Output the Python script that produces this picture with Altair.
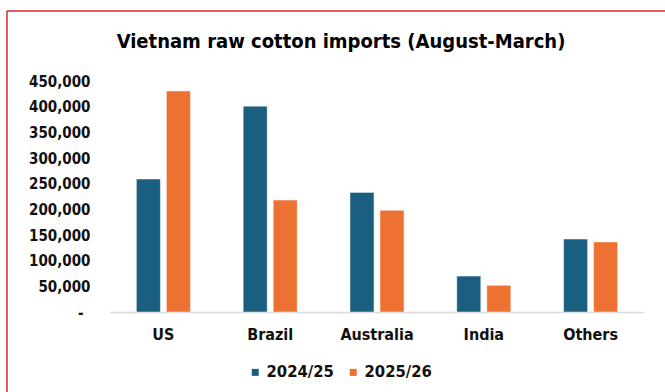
import altair as alt
import pandas as pd

countries = ["US", "Brazil", "Australia", "India", "Others"]
seasons = ["2024/25", "2025/26"]
imports_2024_25 = [259000, 401000, 233000, 70000, 142000]
imports_2025_26 = [430500, 218000, 198000, 52000, 136400]
y_ticks = [0, 50000, 100000, 150000, 200000, 250000, 300000, 350000, 400000, 450000]

rows = []
for c, a, b in zip(countries, imports_2024_25, imports_2025_26):
    rows.append({"country": c, "season": seasons[0], "value": a})
    rows.append({"country": c, "season": seasons[1], "value": b})
df = pd.DataFrame(rows)

FONT = "DejaVu Sans Condensed"

bars = alt.Chart(df).mark_bar(stroke="#ffffff", strokeOpacity=0.45, strokeWidth=1).encode(
    x=alt.X("country:N", sort=countries, title=None,
            scale=alt.Scale(paddingInner=0.494, paddingOuter=0.247),
            axis=alt.Axis(labelAngle=0, ticks=False, tickSize=0, labelPadding=14,
                          labelFont=FONT, labelFontSize=16, labelFontWeight="bold",
                          labelColor="#111111",
                          domainColor="#d9d9d9", domainWidth=1.5, grid=False)),
    xOffset=alt.XOffset("season:N", sort=seasons,
                        scale=alt.Scale(paddingInner=0.2, paddingOuter=0)),
    y=alt.Y("value:Q", title=None,
            scale=alt.Scale(domain=[0, 450000], nice=False),
            axis=alt.Axis(values=y_ticks, domain=False, ticks=False, tickSize=0, grid=False,
                          labelPadding={"condition": {"test": "datum.value == 0", "value": 27},
                                        "value": 20},
                          labelFont=FONT, labelFontSize=15,
                          labelFontWeight="bold", labelColor="#111111",
                          labelExpr="datum.value == 0 ? '-' : format(datum.value, ',')")),
    color=alt.Color("season:N", sort=seasons,
                    scale=alt.Scale(domain=seasons, range=["#1a5f80", "#ed7131"]),
                    legend=alt.Legend(title=None, orient="none", legendX=137, legendY=283,
                                      direction="horizontal", symbolType="square",
                                      symbolSize=49, symbolStrokeWidth=0, labelOffset=3,
                                      columnPadding=11, padding=0,
                                      labelFont=FONT, labelFontSize=16.5,
                                      labelFontWeight="bold", labelColor="#111111")),
)

border = alt.Chart(alt.Data(values=[{}]))
top_line = border.mark_rule(color="#d7282f", strokeWidth=1.5).encode(
    x=alt.value(-103), x2=alt.value(600), y=alt.value(-70))
left_line = border.mark_rule(color="#d7282f", strokeWidth=1.5).encode(
    x=alt.value(-103), y=alt.value(-70), y2=alt.value(400))

chart = alt.layer(bars, top_line, left_line).properties(
    width=534, height=231,
    autosize=alt.AutoSizeParams(type="none"),
    padding={"left": 110, "top": 81, "right": 21, "bottom": 80},
    title=alt.Title("Vietnam raw cotton imports (August-March)",
                    font="DejaVu Sans Condensed", fontSize=20, fontWeight="bold",
                    color="#000000", anchor="middle", frame="group", dx=-36,
                    baseline="alphabetic", offset=-58),
).configure_view(stroke=None)

chart.save("out.html", embed_options={"renderer": "svg", "actions": False})
